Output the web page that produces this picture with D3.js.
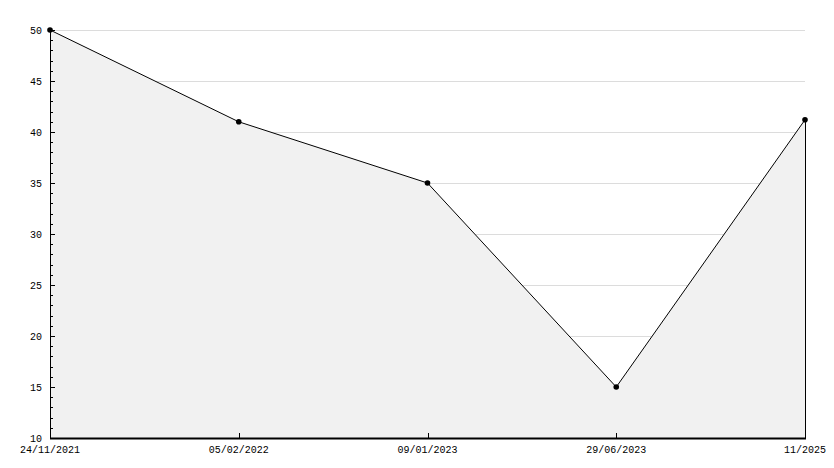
<!DOCTYPE html>
<html lang="en">
<head>
  <meta charset="UTF-8">
  <title>Line chart</title>
  <style>
    body { margin: 0; background: #fff; }
    svg text { font-family: "Liberation Mono", "DejaVu Sans Mono", monospace; font-size: 10px; fill: #000; }
  </style>
</head>
<body>
  <svg id="chart" width="834" height="468"></svg>
  <script src="https://d3js.org/d3.v7.min.js"></script>
  <script>
    // data
    const dates = ["24/11/2021", "05/02/2022", "09/01/2023", "29/06/2023", "11/2025"];
    const values = [50, 41, 35, 15, 41.2];
    const yTicks = [10, 15, 20, 25, 30, 35, 40, 45, 50];

    const data = dates.map((d, i) => ({ date: d, value: values[i] }));

    const svg = d3.select("#chart");
    const margin = { top: 30, right: 29, bottom: 30, left: 50 };
    const width = 834 - margin.left - margin.right;
    const height = 468 - margin.top - margin.bottom;

    const x = d3.scalePoint().domain(dates).range([0, width]);
    const y = d3.scaleLinear().domain([10, 50]).range([height, 0]);

    const g = svg.append("g")
      .attr("transform", `translate(${margin.left},${margin.top})`);

    // gridlines (behind the area)
    g.append("g")
      .selectAll("line")
      .data(yTicks.filter(t => t > 10))
      .enter().append("line")
      .attr("x1", 0).attr("x2", width)
      .attr("y1", d => y(d) + 0.5).attr("y2", d => y(d) + 0.5)
      .attr("stroke", "#dcdcdc")
      .attr("stroke-width", 1);

    // area
    const area = d3.area()
      .x(d => x(d.date))
      .y0(height)
      .y1(d => y(d.value));
    g.append("path")
      .datum(data)
      .attr("d", area)
      .attr("fill", "#f1f1f1");

    // right edge of the area
    g.append("line")
      .attr("x1", x(dates[dates.length - 1]) + 0.5)
      .attr("x2", x(dates[dates.length - 1]) + 0.5)
      .attr("y1", y(values[values.length - 1]))
      .attr("y2", height)
      .attr("stroke", "#000");

    // line
    const line = d3.line()
      .x(d => x(d.date))
      .y(d => y(d.value));
    g.append("path")
      .datum(data)
      .attr("d", line)
      .attr("fill", "none")
      .attr("stroke", "#000")
      .attr("stroke-width", 1);

    // markers
    g.selectAll(".dot")
      .data(data)
      .enter().append("circle")
      .attr("class", "dot")
      .attr("cx", d => x(d.date))
      .attr("cy", d => y(d.value))
      .attr("r", 2.8)
      .attr("fill", "#000");

    // y axis: minor ticks every unit, major every 5
    const yAxis = g.append("g");
    yAxis.append("line")
      .attr("x1", 0.5).attr("x2", 0.5)
      .attr("y1", 0).attr("y2", height)
      .attr("stroke", "#000");
    yAxis.selectAll(".minor")
      .data(d3.range(10, 51))
      .enter().append("line")
      .attr("x1", 0).attr("x2", d => d % 5 === 0 ? 5 : 3)
      .attr("y1", d => Math.round(y(d)) + 0.5)
      .attr("y2", d => Math.round(y(d)) + 0.5)
      .attr("stroke", "#000");
    yAxis.selectAll("text")
      .data(yTicks)
      .enter().append("text")
      .attr("x", -8)
      .attr("y", d => y(d))
      .attr("dy", "0.35em")
      .attr("text-anchor", "end")
      .text(d => d);

    // x axis
    const xAxis = g.append("g").attr("transform", `translate(0,${height})`);
    xAxis.append("line")
      .attr("x1", 0).attr("x2", width + 1)
      .attr("y1", 0.5).attr("y2", 0.5)
      .attr("stroke", "#000").attr("stroke-width", 2);
    xAxis.selectAll(".tick")
      .data(dates)
      .enter().append("line")
      .attr("x1", d => Math.round(x(d)) + 0.5)
      .attr("x2", d => Math.round(x(d)) + 0.5)
      .attr("y1", 0).attr("y2", -5)
      .attr("stroke", "#000");
    xAxis.selectAll("text")
      .data(dates)
      .enter().append("text")
      .attr("x", d => x(d))
      .attr("y", 15)
      .attr("text-anchor", "middle")
      .text(d => d);
  </script>
</body>
</html>
